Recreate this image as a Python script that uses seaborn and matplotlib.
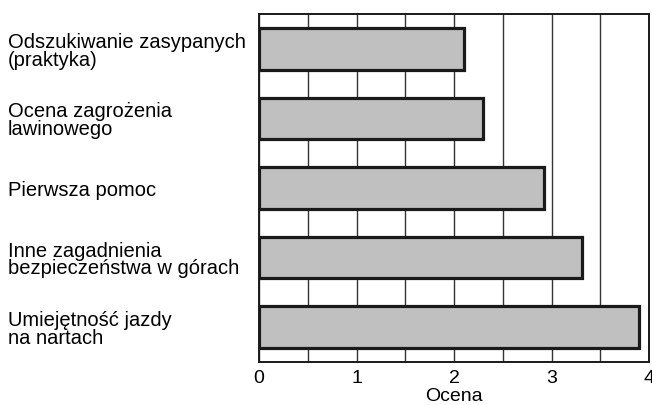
import matplotlib
matplotlib.use("Agg")
import matplotlib.pyplot as plt
import seaborn as sns
import pandas as pd
import numpy as np

categories = [
    "Odszukiwanie zasypanych\n(praktyka)",
    "Ocena zagrożenia\nlawinowego",
    "Pierwsza pomoc",
    "Inne zagadnienia\nbezpieczeństwa w górach",
    "Umiejętność jazdy\nna nartach",
]
values = [2.10, 2.30, 2.92, 3.31, 3.90]
xticks = [0, 1, 2, 3, 4]

sns.set_theme(style="white")
plt.rcParams['font.family'] = ['Liberation Sans', 'DejaVu Sans']
plt.rcParams['text.color'] = 'black'
plt.rcParams['axes.labelcolor'] = 'black'
plt.rcParams['xtick.color'] = 'black'
plt.rcParams['ytick.color'] = 'black'

df = pd.DataFrame({"cat": categories, "val": values})

fig = plt.figure(figsize=(6.52, 4.06), dpi=100)
ax = fig.add_axes([259/652, 1-363/406, (649-259)/652, (363-15)/406])

sns.barplot(data=df, y="cat", x="val", orient="h", color="#c0c0c0",
            edgecolor="#1a1a1a", linewidth=2.3, width=0.6, saturation=1, ax=ax, zorder=3)

ax.set_xlim(0, 4)
ax.set_xticks(xticks)
ax.set_xticklabels([str(t) for t in xticks])
ax.set_xticks(np.arange(0.5, 4, 1.0), minor=True)
ax.grid(True, axis="x", which="both", color="#333333", linewidth=1.0, zorder=0)
ax.set_axisbelow(True)
ax.grid(False, axis="y")

ax.set_xlabel("Ocena", fontsize=14, labelpad=1, color="black")
ax.set_ylabel("")

for s in ax.spines.values():
    s.set_visible(True)
    s.set_color("#1a1a1a")
    s.set_linewidth(1.4)

ax.tick_params(axis="x", which="both", length=0, pad=5, labelsize=14, labelcolor="black")
ax.tick_params(axis="y", which="both", length=0, pad=(259-8)*0.72, labelsize=14.5, labelcolor="black")
for lab in ax.get_yticklabels():
    lab.set_ha("left")
    lab.set_linespacing(0.92)

fig.savefig("out.png", dpi=100)
